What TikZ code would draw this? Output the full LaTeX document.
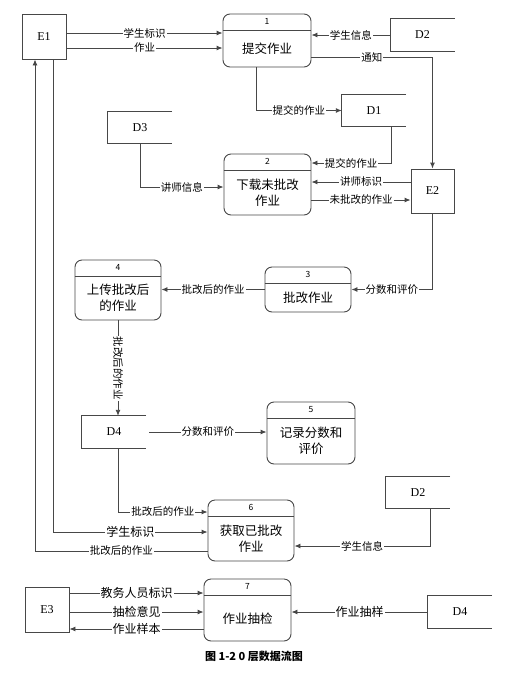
\documentclass[tikz,border=0pt]{standalone}
\usepackage{fontspec}
\setmainfont{Liberation Serif}
\newfontfamily\cjk{Noto Sans CJK SC}
\usetikzlibrary{positioning}
\usetikzlibrary{calc}
\usetikzlibrary{arrows.meta}

\begin{document}
\begin{tikzpicture}[x=1pt, y=-1pt, >={Latex[length=6pt,width=5pt]}]

\def\HeadHeight{16pt}

% Styles
\tikzstyle{line} =
	[draw=black!72, line width=0.9pt]

\tikzstyle{flow} =
	[line, ->]

\tikzstyle{external} =
	[line, minimum width=44pt, minimum height=45pt, inner sep=0pt, font=\fontsize{12}{14}\selectfont]

\tikzstyle{store} =
	[minimum width=64pt, minimum height=32pt, inner sep=0pt, font=\fontsize{12}{14}\selectfont]

\tikzstyle{process} =
	[line, rounded corners=7pt, inner sep=0pt]

\tikzstyle{number} =
	[anchor=north, minimum height=\HeadHeight, inner sep=0pt, font=\cjk\fontsize{8.5}{9}\selectfont]

\tikzstyle{ptext} =
	[align=center, inner sep=0pt, font=\cjk\fontsize{12.5}{16}\selectfont]

\tikzstyle{lab} =
	[fill=white, inner sep=1pt, font=\cjk\fontsize{10.5}{12}\selectfont]

\tikzstyle{biglab} =
	[lab, font=\cjk\fontsize{12}{14}\selectfont]

\useasboundingbox (0,0) rectangle (509,681);

% Entities

\node (E1) [external] at (44,36.5) {E1};
\node (E2) [external, minimum width=43pt, minimum height=44pt] at (432.5,191) {E2};
\node (E3) [external] at (47,609.5) {E3};

% Stores

\node (D2a) [store] at (422.5,35) {D2};
\node (D1) [store] at (374,110.5) {D1};
\node (D3) [store] at (140,127.5) {D3};
\node (D4a) [store] at (114,432) {D4};
\node (D2b) [store] at (418,492.5) {D2};
\node (D4b) [store] at (460,612) {D4};

\foreach \s in {D1,D2a,D2b,D3,D4a,D4b}
	\draw[line] (\s.north east) -- (\s.north west) -- (\s.south west) -- (\s.south east);

% Processes

\node (P1) [process, minimum width=88pt, minimum height=53pt] at (267,40.5) {};
\node (P2) [process, minimum width=87pt, minimum height=61pt] at (267.5,184.5) {};
\node (P3) [process, minimum width=86pt, minimum height=45pt] at (308,289.5) {};
\node (P4) [process, minimum width=86pt, minimum height=60pt] at (118,290) {};
\node (P5) [process, minimum width=88pt, minimum height=62pt] at (311,433) {};
\node (P6) [process, minimum width=86pt, minimum height=61pt] at (251,530.5) {};
\node (P7) [process, minimum width=87pt, minimum height=62pt] at (247.5,610) {};

\foreach \p/\n/\t in {P1/1/提交作业, P2/2/{下载未批改\\作业}, P3/3/批改作业,
		P4/4/{上传批改后\\的作业}, P5/5/{记录分数和\\评价}, P6/6/{获取已批改\\作业}, P7/7/作业抽检} {
	\node (num\p) [number] at (\p.north) {\n};
	\draw[line] (\p.west |- num\p.south) -- (\p.east |- num\p.south);
	\node (txt\p) [ptext] at ($(num\p.south)!0.5!(\p.south)$) {\t};
}

% Edges

\draw[flow] (E1.east |- 0,33) -- node[lab] {学生标识} (P1.west |- 0,33);
\draw[flow] (E1.east |- 0,48) -- node[lab] {作业} (P1.west |- 0,48);
\draw[flow] (D2a.west) -- node[lab] {学生信息} (P1.east |- D2a.west);
\draw[flow] (P1.east |- 0,57) -| node[lab, pos=0.25] {通知} (E2.north);
\draw[flow] (256,0 |- P1.south) |- node[lab, pos=0.75] {提交的作业} (D1.west);
\draw[flow] (391,0 |- D1.south) |- node[lab, pos=0.75] {提交的作业} (P2.east |- 0,163);
\draw[flow] (D3.south) |- node[lab, pos=0.75] {讲师信息} (P2.west |- 0,187);
\draw[flow] (E2.west |- 0,182) -- node[lab] {讲师标识} (P2.east |- 0,182);
\draw[flow] (P2.east |- 0,200) -- node[lab] {未批改的作业} (E2.west |- 0,200);
\draw[flow] (E2.south) |- node[lab, pos=0.75] {分数和评价} (P3.east);
\draw[flow] (P3.west) -- node[lab] {批改后的作业} (P4.east |- P3.west);
\draw[flow] (P4.south) -- node[lab, rotate=-90] {批改后的作业} (P4.south |- D4a.north);
\draw[flow] ([xshift=3pt]D4a.east) -- node[lab] {分数和评价} (P5.west |- D4a.east);
\draw[flow] (118,0 |- D4a.south) |- node[lab, pos=0.75] {批改后的作业} (P6.west |- 0,512);
\draw[flow] (53,0 |- E1.south) |- node[biglab, pos=0.75] {学生标识} (P6.west |- 0,532);
\draw[flow] (P6.west |- 0,551) -| node[lab, pos=0.25] {批改后的作业} (35,0 |- E1.south);
\draw[flow] (430,0 |- D2b.south) |- node[lab, pos=0.75] {学生信息} (P6.east |- 0,546);
\draw[flow] (E3.east |- 0,593) -- node[biglab] {教务人员标识} (P7.west |- 0,593);
\draw[flow] (E3.east |- 0,612) -- node[biglab] {抽检意见} (P7.west |- 0,612);
\draw[flow] (P7.west |- 0,629) -- node[biglab] {作业样本} (E3.east |- 0,629);
\draw[flow] (D4b.west) -- node[biglab] {作业抽样} (P7.east |- D4b.west);

% Caption

\node (caption) [font=\cjk\bfseries\fontsize{11}{13}\selectfont] at (254,656) {图 1-2 0 层数据流图};

\end{tikzpicture}
\end{document}
